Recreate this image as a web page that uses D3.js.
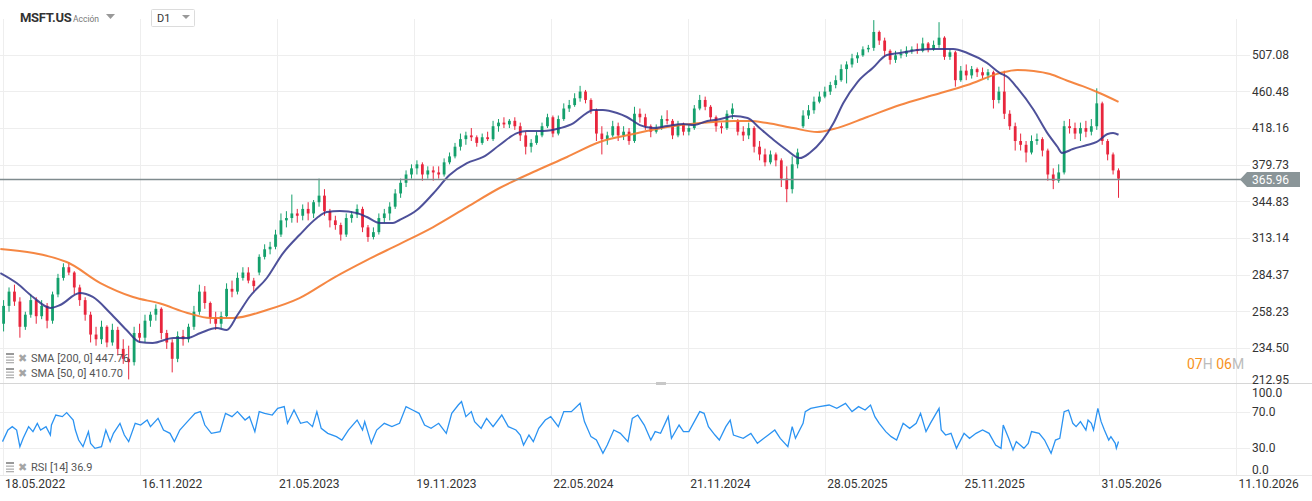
<!DOCTYPE html>
<html><head><meta charset="utf-8">
<script src="https://cdn.jsdelivr.net/npm/d3@7"></script>
<style>
html,body{margin:0;padding:0;background:#fff;overflow:hidden}
svg{display:block;font-family:Roboto,"Noto Sans",Arial,sans-serif}
</style></head><body>
<svg id="c" width="1312" height="501"></svg>
<script>
// ---------- DATA ----------
const symbol = "MSFT.US", assetType = "Acción", interval = "D1";
const priceTicks = [212.95,234.50,258.23,284.37,313.14,344.83,379.73,418.16,460.48,507.08];
const rsiTicks = [0,30,70,100];
const xTickDays = [0,126,252,378,504,630,756,882,1008,1134];
const xTickLabels = ["18.05.2022","16.11.2022","21.05.2023","19.11.2023","22.05.2024","21.11.2024","28.05.2025","25.11.2025","31.05.2026","11.10.2026"];
const lastPrice = 365.96;
const sma200Last = 447.76, sma50Last = 410.70, rsiLast = 36.9;

// weekly-aggregated candles (one bar = 5 trading days)
const openP = [250,262,272,265,248,256,266,255,262,252,270,282,290,286,275,266,256,243,240,248,
238,246,234,228,226,244,241,252,256,260,244,238,228,242,240,248,258,272,264,254,
250,255,274,272,282,286,280,286,298,304,306,316,328,330,334,332,338,334,344,350,
336,328,324,316,330,333,338,322,314,318,330,334,340,352,362,370,376,380,370,374,
372,370,382,388,398,406,410,408,402,408,406,420,424,422,426,420,410,398,402,410,
420,430,412,428,440,444,452,460,450,438,412,406,410,420,410,414,404,434,430,420,
414,418,428,426,410,422,414,418,440,450,442,430,420,418,434,426,414,410,418,398,
390,382,390,384,366,356,380,420,432,438,448,454,460,468,474,488,494,502,506,514,
516,538,526,512,500,506,508,512,514,512,522,514,520,530,504,510,474,486,480,488,
484,480,484,450,460,434,420,404,400,392,404,406,394,370,364,372,420,418,412,418,
414,420,446,404,390,374];
const highP = [266,275,277,268,258,270,268,266,264,272,285,293,294,287,277,268,258,248,252,249,
250,248,240,236,248,250,256,258,263,261,246,240,245,246,250,262,277,276,265,258,
258,278,280,286,290,290,282,300,308,310,320,334,336,351,338,342,344,346,366,356,
338,332,326,334,336,342,340,324,322,334,338,344,356,366,374,380,384,382,378,378,
378,386,392,402,412,414,418,410,412,414,426,428,430,428,430,424,414,406,414,424,
434,432,432,446,450,458,467,462,452,440,420,414,426,424,420,418,442,440,434,422,
422,432,438,428,426,424,422,444,456,454,444,432,424,438,446,428,420,424,420,404,
396,394,392,386,378,388,396,438,444,454,460,466,472,480,494,498,508,510,518,520,
555,540,530,514,512,514,518,518,522,530,524,526,552,532,514,512,492,494,492,490,
490,488,486,466,486,438,424,412,404,410,412,408,396,376,380,426,428,424,424,426,
428,464,448,406,392,376];
const lowP = [245,258,262,241,246,254,250,253,247,250,268,280,284,270,262,252,238,236,237,235,
236,230,225,216,224,238,238,248,252,240,234,220,226,236,238,246,256,260,250,246,
247,254,268,270,280,278,272,284,296,300,304,314,322,326,326,328,328,330,340,332,
322,320,311,314,326,330,318,310,312,316,326,328,338,348,358,366,370,364,366,364,
366,368,380,386,394,400,404,398,400,404,404,414,418,418,416,404,390,392,400,408,
418,408,410,426,436,442,448,446,434,404,390,400,408,404,405,400,402,424,416,408,
412,416,422,406,408,410,410,416,438,438,426,414,412,416,428,410,404,406,392,384,
378,380,378,358,344,352,376,418,428,434,446,452,456,464,472,470,490,496,504,510,
512,520,504,494,496,502,504,508,508,510,510,512,516,500,500,466,472,474,476,478,
476,474,440,446,428,416,394,394,382,390,400,388,364,356,362,370,412,406,404,408,
410,416,400,384,370,348];
const closeP = [262,272,265,248,256,266,255,262,252,270,282,290,286,275,266,256,243,240,248,238,
246,234,228,226,244,241,252,256,260,244,238,228,242,240,248,258,272,264,254,250,
255,274,272,282,286,280,276,298,304,306,316,328,330,334,332,338,334,344,350,336,
328,324,316,330,333,338,322,314,318,330,334,340,352,362,370,376,380,370,374,372,
370,382,388,398,406,410,408,402,408,406,420,424,422,426,420,410,398,402,410,420,
430,412,428,440,444,452,460,450,438,412,406,410,420,410,414,404,434,430,420,414,
418,428,426,410,422,414,418,440,450,442,430,420,418,434,440,414,410,418,398,390,
382,390,384,366,356,380,392,432,438,448,454,460,468,474,488,494,502,506,514,516,
538,526,512,500,506,508,512,514,512,522,514,520,530,504,510,474,486,480,488,484,
480,484,450,460,434,420,404,400,392,404,406,394,370,364,372,420,418,412,418,414,
420,446,404,390,374,365.96];

// moving averages (trading-day index, value)
const sma200Days = [-2,59,90,120,145,170,191,212,243,273,304,335,365,396,427,457,488,519,549,580,611,641,672,687,703,727,749,764,795,825,856,887,917,933,948,963,979,993,1009,1026];
const sma200Vals = [304.2,294.0,278.2,268.2,263.6,257.2,253.8,253.8,259.2,267.4,281.9,295.5,308.2,322.3,339.6,357.1,372.4,387.4,403.0,411.5,419.1,423.5,425.8,425.8,423.5,418.0,413.6,416.9,430.3,444.1,455.9,468.0,482.9,486.8,485.5,481.7,473.3,466.6,458.0,447.76];
const sma50Days = [-2,13,28,44,53,71,83,99,114,126,138,157,170,182,197,206,216,227,243,258,273,289,298,310,326,335,347,359,365,381,396,411,427,442,457,473,482,497,513,525,537,543,552,565,574,586,598,611,626,635,648,660,672,685,696,709,721,733,742,754,764,773,786,800,813,825,841,856,874,887,905,917,924,933,948,960,970,974,984,997,1006,1016,1021,1026];
const sma50Vals = [285.6,278.2,268.2,260.6,262.6,271.0,268.2,257.2,245.9,238.3,237.7,240.8,240.8,244.0,247.2,245.9,255.8,268.2,281.9,301.0,315.6,330.0,335.2,336.1,334.3,330.9,325.7,325.7,328.3,337.0,352.0,369.5,381.3,387.4,399.8,412.5,414.7,414.7,418.0,423.5,434.8,438.3,438.3,434.8,430.3,421.3,418.0,420.2,422.4,421.3,425.8,428.0,431.4,429.1,418.0,405.1,394.6,386.3,391.5,405.1,423.5,446.4,471.7,489.4,506.4,509.1,513.1,514.5,514.5,509.1,496.0,482.9,478.0,464.4,438.3,413.6,397.7,391.5,395.6,399.8,403.0,411.5,412.5,410.70];

// RSI(14)
const rsiDays = [0,5,9,13,16,19,24,28,32,35,40,44,45,49,55,59,65,67,70,74,79,81,85,91,95,99,102,108,112,116,122,127,133,136,143,148,154,158,163,170,177,182,186,192,200,205,211,216,223,227,232,236,241,248,253,259,262,268,274,280,285,289,293,299,307,312,318,326,331,333,339,344,351,358,365,371,377,383,388,394,401,408,413,419,422,426,431,434,440,445,451,459,465,472,476,479,484,488,493,499,504,511,516,523,531,535,541,546,552,556,562,568,575,579,584,590,596,600,605,612,615,622,626,631,636,641,645,649,655,659,665,669,672,681,688,694,700,704,710,715,722,726,729,736,738,743,751,760,767,775,781,787,793,798,802,806,812,817,822,828,834,840,844,849,853,861,863,867,872,877,884,889,895,901,907,913,918,920,925,929,932,939,943,946,953,958,964,968,972,976,980,984,987,991,996,998,1001,1003,1007,1010,1013,1017,1019,1023,1024,1026];
const rsiVals = [36.8,49.8,53.6,49.8,31.2,40.5,53.6,48,57.3,49.8,53.6,44.2,55.4,66.6,64.8,69.3,61,49.8,38.6,31.2,48,34.9,29.3,31.2,49.8,36.8,46.1,57.3,44.2,36.8,57.3,55.4,61,53.6,62.9,49.8,46.1,36.8,49.8,59.2,68.5,70.4,55.4,46.1,48,68.5,64.8,70.4,61,64.8,48,70.4,68.5,66.6,74.1,76,57.3,72.2,57.3,59.2,53.6,70.4,51.7,46.1,42.4,38.6,49.8,61,49.8,59.2,34.9,49.8,57.3,53.6,57.3,76,72.2,68.5,55.4,51.7,57.3,46.1,68.5,77.8,81.6,64.8,70.4,59.2,51.7,62.9,53.6,66.6,53.6,49.8,44.2,33,44.2,36.8,51.7,61,64.8,53.6,70.4,70.4,79.7,59.2,42.4,38.6,23.7,33,49.8,46.1,36.8,62.9,66.6,55.4,38.6,48,46.1,64.8,40.5,55.4,48,48,59.2,70.4,68.5,53.6,44.2,38.6,53.6,61,44.2,40.5,46.1,34.9,40.5,44.2,49.8,40.5,31.2,53.6,40.5,57.3,70.4,74.1,76,77.8,74.1,79.7,70.4,76,72.2,77.8,64.8,57.3,48,42.4,38.6,57.3,51.7,57.3,68.5,48,57.3,74.1,49.8,44.2,46.1,29.3,46.1,40.5,46.1,49.8,46.1,33,29.3,55.4,40.5,27.4,36.8,29.3,34.9,48,46.1,38.6,23.7,38.6,40.5,70.4,72.2,57.3,53.6,59.2,49.8,61,57.3,49.8,74.1,59.2,49.8,38.6,42.4,34.9,29.3,36.9];

// ---------- CHART ----------
const svg = d3.select('#c');
const FONT = 'Roboto,"Noto Sans",Arial,sans-serif';
const gridR = 1250, panelTop = 19, priceBot = 383.5, rsiBot = 475.5;

const x = d3.scaleLinear().domain([0,1134]).range([2.5,1236]);
const y = d3.scaleLog().domain([212.95,507.08]).range([384.8,54.5]);
const r = d3.scaleLinear().domain([0,100]).range([474.5,385.2]);

// vertical grid
svg.append('g').selectAll('line').data(xTickDays).join('line')
  .attr('x1',d=>Math.round(x(d))+0.5).attr('x2',d=>Math.round(x(d))+0.5)
  .attr('y1',panelTop).attr('y2',rsiBot).attr('stroke','#eeeeee');
// horizontal price grid
svg.append('g').selectAll('line').data(priceTicks.filter(d=>d>213)).join('line')
  .attr('x1',0).attr('x2',gridR).attr('y1',d=>Math.round(y(d))+0.5).attr('y2',d=>Math.round(y(d))+0.5)
  .attr('stroke','#eeeeee');
// rsi grid
svg.append('g').selectAll('line').data([30,70]).join('line')
  .attr('x1',0).attr('x2',gridR).attr('y1',d=>Math.round(r(d))+0.5).attr('y2',d=>Math.round(r(d))+0.5)
  .attr('stroke','#eeeeee');
// panel separators
svg.append('line').attr('x1',0).attr('x2',1312).attr('y1',priceBot).attr('y2',priceBot).attr('stroke','#d6d6d6');
svg.append('line').attr('x1',0).attr('x2',1312).attr('y1',rsiBot).attr('y2',rsiBot).attr('stroke','#e8e8e8');
svg.append('rect').attr('x',656).attr('y',382).attr('width',10).attr('height',3).attr('fill','#c8c8c8');

// clip
svg.append('clipPath').attr('id','pclip').append('rect').attr('x',0).attr('y',panelTop).attr('width',1236).attr('height',priceBot-panelTop);
const pg = svg.append('g').attr('clip-path','url(#pclip)');

// candles
const candles = openP.map((o,i)=>({day:5*i+1,o,h:highP[i],l:lowP[i],c:closeP[i]}));
const UP='#14a06c', DN='#e8263d';
const cg = pg.append('g');
cg.selectAll('line').data(candles).join('line')
  .attr('x1',d=>x(d.day)).attr('x2',d=>x(d.day))
  .attr('y1',d=>y(d.h)).attr('y2',d=>y(d.l))
  .attr('stroke',d=>d.c>=d.o?UP:DN).attr('stroke-width',1);
cg.selectAll('rect').data(candles).join('rect')
  .attr('x',d=>x(d.day)-1.4).attr('width',2.8)
  .attr('y',d=>y(Math.max(d.o,d.c)))
  .attr('height',d=>Math.max(1,Math.abs(y(d.o)-y(d.c))))
  .attr('fill',d=>d.c>=d.o?UP:DN);

// SMAs
const line = d3.line().x(d=>x(d[0])).y(d=>y(d[1])).curve(d3.curveMonotoneX);
pg.append('path').datum(d3.zip(sma200Days,sma200Vals)).attr('d',line)
  .attr('fill','none').attr('stroke','#f47a2f').attr('stroke-width',2).attr('stroke-opacity',0.9);
pg.append('path').datum(d3.zip(sma50Days,sma50Vals)).attr('d',line)
  .attr('fill','none').attr('stroke','#2f3288').attr('stroke-width',2).attr('stroke-opacity',0.85);

// current price line
const yl = Math.round(y(lastPrice))+0.5;
svg.append('line').attr('x1',0).attr('x2',1242).attr('y1',yl).attr('y2',yl).attr('stroke','#7f8b8e').attr('stroke-width',1.3);
svg.append('path').attr('d',`M1240,${yl} L1247,${yl-7.5} L1300,${yl-7.5} L1300,${yl+7.5} L1247,${yl+7.5} Z`).attr('fill','#8a9598');

// price axis
const gA = svg.append('g').attr('transform','translate(1252,0)')
  .call(d3.axisRight(y).tickValues(priceTicks).tickSize(0).tickPadding(0).tickFormat(d3.format('.2f')));
gA.select('.domain').remove();
gA.attr('font-family',FONT).attr('font-size',12);
gA.selectAll('text').attr('fill','#333');
gA.selectAll('.tick').filter(d=>d===212.95).select('text').attr('dy','-0.15em');
svg.append('text').attr('x',1252).attr('y',yl).attr('dy','0.35em').attr('font-size',12).attr('font-family',FONT)
  .attr('fill','#fff').text(lastPrice.toFixed(2));

// RSI axis
const gR = svg.append('g').attr('transform','translate(1252,0)')
  .call(d3.axisRight(r).tickValues(rsiTicks).tickSize(0).tickPadding(0).tickFormat(d3.format('.1f')));
gR.select('.domain').remove();
gR.attr('font-family',FONT).attr('font-size',12);
gR.selectAll('text').attr('fill','#333');
gR.selectAll('.tick').filter(d=>d===100).select('text').attr('dy','0.9em');
gR.selectAll('.tick').filter(d=>d===0).select('text').attr('dy','-0.1em');

// RSI line
svg.append('path').datum(d3.zip(rsiDays,rsiVals))
  .attr('d',d3.line().x(d=>x(d[0])).y(d=>r(d[1])))
  .attr('fill','none').attr('stroke','#2b93f2').attr('stroke-width',1.3);

// x axis
const gX = svg.append('g').attr('transform','translate(2,477)')
  .call(d3.axisBottom(x).tickValues(xTickDays).tickSize(0).tickPadding(2).tickFormat((d,i)=>xTickLabels[i]));
gX.select('.domain').remove();
gX.attr('font-family',FONT).attr('font-size',12);
gX.selectAll('text').attr('fill','#333').attr('text-anchor','start');

// header
svg.append('text').attr('x',20).attr('y',22).attr('font-family',FONT).attr('font-size',13).attr('font-weight','bold').attr('fill','#333').attr('letter-spacing',-0.3).text(symbol);
svg.append('text').attr('x',73).attr('y',21.5).attr('font-family',FONT).attr('font-size',8.5).attr('fill','#777').text(assetType);
svg.append('path').attr('d','M106,14 L115,14 L110.5,19 Z').attr('fill','#999');
svg.append('rect').attr('x',151.5).attr('y',9.5).attr('width',43).attr('height',17).attr('fill','#fff').attr('stroke','#dcdcdc').attr('rx',1);
svg.append('text').attr('x',157).attr('y',22).attr('font-family',FONT).attr('font-size',11).attr('fill','#333').text(interval);
svg.append('path').attr('d','M182,15 L190,15 L186,19 Z').attr('fill','#999');

// legends
function icon(yc){
  const g = svg.append('g');
  g.append('rect').attr('x',6).attr('y',yc-5).attr('width',8).attr('height',2).attr('fill','#9a9a9a');
  g.append('rect').attr('x',6).attr('y',yc-1.5).attr('width',8).attr('height',1.3).attr('fill','#b0b0b0');
  g.append('rect').attr('x',6).attr('y',yc+1.5).attr('width',8).attr('height',1.3).attr('fill','#b0b0b0');
  g.append('rect').attr('x',6).attr('y',yc+4).attr('width',8).attr('height',1.3).attr('fill','#b0b0b0');
  g.append('text').attr('x',18).attr('y',yc+4).attr('font-size',11).attr('fill','#a5a5a5').attr('font-family','DejaVu Sans').text('✖');
}
const legends = [
  {yc:358, t:`SMA [200, 0] ${sma200Last.toFixed(2)}`},
  {yc:373, t:`SMA [50, 0] ${sma50Last.toFixed(2)}`},
  {yc:467, t:`RSI [14] ${rsiLast.toFixed(1)}`}
];
legends.forEach(l=>{
  icon(l.yc);
  svg.append('text').attr('x',31).attr('y',l.yc+4).attr('font-family',FONT).attr('font-size',11).attr('fill','#555').text(l.t);
});

// countdown
const cd = svg.append('text').attr('x',1187).attr('y',369).attr('font-family',FONT).attr('font-size',14);
cd.append('tspan').attr('fill','#f7931e').text('07');
cd.append('tspan').attr('fill','#bcbcbc').text('H ');
cd.append('tspan').attr('fill','#f7931e').text('06');
cd.append('tspan').attr('fill','#bcbcbc').text('M');
</script>
</body></html>
